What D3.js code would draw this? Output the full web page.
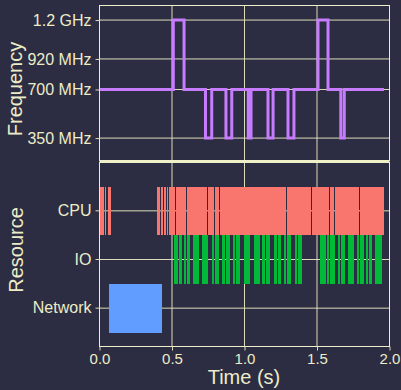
<!DOCTYPE html>
<html>
<head>
<meta charset="utf-8">
<script src="https://cdn.jsdelivr.net/npm/d3@7"></script>
<style>
  body { margin: 0; background: #2c2d42; }
  svg { display: block; }
  text { font-family: "Liberation Sans", Arial, sans-serif; fill: #ececc8; }
</style>
</head>
<body>
<svg id="chart" width="401" height="390"></svg>
<script>
// frequency steps: value holds from time[i] until time[i+1]
const freqTimes  = [0, 0.509, 0.583, 0.731, 0.774, 0.872, 0.912, 1.026, 1.045, 1.162, 1.197, 1.300, 1.341, 1.507, 1.576, 1.664, 1.688, 1.962];
const freqValues = [700, 1200, 700, 350, 700, 350, 700, 350, 700, 350, 700, 350, 700, 1200, 700, 350, 700, 700];
const freqTicks  = [350, 700, 920, 1200];
const freqLabels = ["350 MHz", "700 MHz", "920 MHz", "1.2 GHz"];

const resources = ["CPU", "IO", "Network"];
const cpuStart = [0.003, 0.038, 0.059, 0.394, 0.424, 0.445, 0.466, 0.481, 0.528, 0.603, 0.748, 0.797, 0.831, 1.293, 1.466, 1.590, 1.626, 1.797];
const cpuEnd   = [0.031, 0.045, 0.077, 0.417, 0.438, 0.459, 0.474, 0.521, 0.597, 0.741, 0.790, 0.824, 1.284, 1.459, 1.583, 1.617, 1.790, 1.962];
const ioStart  = [0.514, 0.548, 0.582, 0.603, 0.645, 0.707, 0.776, 0.799, 0.845, 0.872, 0.919, 0.941, 0.994, 1.017, 1.066, 1.121, 1.148, 1.203, 1.231, 1.272, 1.293, 1.348, 1.369, 1.521, 1.569, 1.590, 1.645, 1.666, 1.714, 1.776, 1.797, 1.838, 1.859, 1.900];
const ioEnd    = [0.539, 0.569, 0.597, 0.626, 0.683, 0.746, 0.792, 0.824, 0.866, 0.900, 0.934, 0.969, 1.015, 1.038, 1.107, 1.141, 1.176, 1.224, 1.252, 1.286, 1.321, 1.362, 1.397, 1.562, 1.583, 1.624, 1.659, 1.693, 1.755, 1.790, 1.824, 1.852, 1.879, 1.948];
const netStart = [0.066];
const netEnd   = [0.431];

const timeTicks = [0, 0.5, 1, 1.5, 2];

const resColor = { CPU: "#F8766D", IO: "#00BA38", Network: "#619CFF" };
const cream = "#f0f0c8";
const gridCol = "#dcdcb8";

const svg = d3.select("#chart");

const x = d3.scaleLinear().domain([0, 2]).range([99.5, 389.5]);
const yF = d3.scaleLinear().domain([185, 1308.5]).range([161, 5]);
const yR = d3.scaleBand().domain(resources).range([186.5, 332.5]).padding(0);

const topP = { y0: 5.5, y1: 160.5 };
const botP = { y0: 162.5, y1: 346.5 };

// grid lines
function vgrid(y0, y1) {
  svg.append("g").selectAll("line")
    .data(timeTicks.slice(1, -1))
    .enter().append("line")
    .attr("x1", d => x(d)).attr("x2", d => x(d))
    .attr("y1", y0).attr("y2", y1)
    .attr("stroke", gridCol).attr("stroke-width", 1);
}
vgrid(topP.y0, topP.y1);
vgrid(botP.y0, botP.y1);

svg.append("g").selectAll("line")
  .data(freqTicks)
  .enter().append("line")
  .attr("x1", x(0)).attr("x2", x(2))
  .attr("y1", d => yF(d)).attr("y2", d => yF(d))
  .attr("stroke", gridCol);

svg.append("g").selectAll("line")
  .data(resources)
  .enter().append("line")
  .attr("x1", x(0)).attr("x2", x(2))
  .attr("y1", d => yR(d) + yR.bandwidth() / 2).attr("y2", d => yR(d) + yR.bandwidth() / 2)
  .attr("stroke", gridCol);

// resource bars
function bars(name, starts, ends) {
  svg.append("g").selectAll("rect")
    .data(starts.map((s, i) => [s, ends[i]]))
    .enter().append("rect")
    .attr("x", d => x(d[0]))
    .attr("width", d => x(d[1]) - x(d[0]))
    .attr("y", yR(name))
    .attr("height", yR.bandwidth())
    .attr("fill", resColor[name])
    .attr("shape-rendering", "crispEdges");
}
bars("CPU", cpuStart, cpuEnd);
bars("IO", ioStart, ioEnd);
bars("Network", netStart, netEnd);

// frequency step line
const line = d3.line()
  .x(d => x(d[0]))
  .y(d => yF(d[1]))
  .curve(d3.curveStepAfter);

svg.append("path")
  .datum(freqTimes.map((t, i) => [t, freqValues[i]]))
  .attr("d", line)
  .attr("fill", "none")
  .attr("stroke", "#C77CFF")
  .attr("stroke-width", 3)
  .attr("stroke-linejoin", "miter");

// panel frames
svg.append("rect")
  .attr("x", x(0)).attr("y", topP.y0)
  .attr("width", x(2) - x(0)).attr("height", topP.y1 - topP.y0)
  .attr("fill", "none").attr("stroke", cream);
svg.append("line")
  .attr("x1", x(0)).attr("x2", x(2)).attr("y1", 161.5).attr("y2", 161.5)
  .attr("stroke", cream);
svg.append("rect")
  .attr("x", x(0)).attr("y", botP.y0)
  .attr("width", x(2) - x(0)).attr("height", botP.y1 - botP.y0)
  .attr("fill", "none").attr("stroke", cream);

// axes
const axF = svg.append("g").attr("transform", `translate(${x(0)},0)`)
  .call(d3.axisLeft(yF).tickValues(freqTicks).tickFormat((d, i) => freqLabels[i]).tickSize(4).tickPadding(4));
const axR = svg.append("g").attr("transform", `translate(${x(0)},0)`)
  .call(d3.axisLeft(yR).tickSize(4).tickPadding(4));
const axT = svg.append("g").attr("transform", `translate(0,${botP.y1})`)
  .call(d3.axisBottom(x).tickValues(timeTicks).tickFormat(d3.format(".1f")).tickSize(4).tickPadding(3));

[axF, axR, axT].forEach(g => {
  g.select(".domain").remove();
  g.selectAll(".tick line").attr("stroke", gridCol);
  g.selectAll(".tick text")
    .attr("fill", "#ececc8")
    .style("font-size", "16px")
    .style("font-family", "'Liberation Sans', Arial, sans-serif");
});
axT.selectAll(".tick text").style("font-size", "15px");

// axis titles
svg.append("text")
  .attr("transform", "translate(22,89) rotate(-90)")
  .attr("text-anchor", "middle")
  .style("font-size", "20px")
  .text("Frequency");
svg.append("text")
  .attr("transform", "translate(22.5,250) rotate(-90)")
  .attr("text-anchor", "middle")
  .style("font-size", "20px")
  .text("Resource");
svg.append("text")
  .attr("x", 244).attr("y", 384)
  .attr("text-anchor", "middle")
  .style("font-size", "20px")
  .text("Time (s)");
</script>
</body>
</html>
